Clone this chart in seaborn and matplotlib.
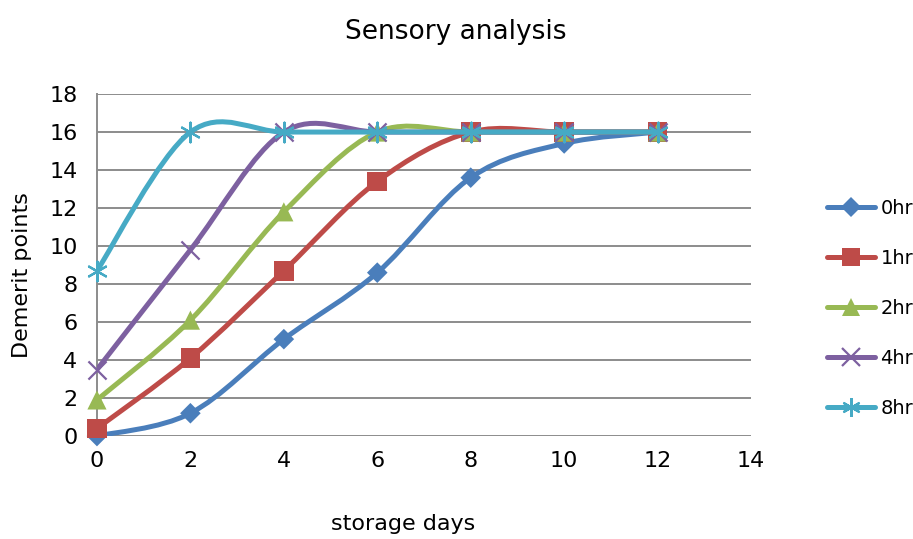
import numpy as np
import pandas as pd
import matplotlib
matplotlib.use("Agg")
import matplotlib.pyplot as plt
from matplotlib.path import Path
from matplotlib.patches import PathPatch
from matplotlib.lines import Line2D
import seaborn as sns

# Storage days and demerit points per treatment time
days = [0, 2, 4, 6, 8, 10, 12]
series_names = ["0hr", "1hr", "2hr", "4hr", "8hr"]
demerit_0hr = [0.0, 1.2, 5.1, 8.6, 13.6, 15.4, 16.0]
demerit_1hr = [0.4, 4.1, 8.7, 13.4, 16.0, 16.0, 16.0]
demerit_2hr = [1.9, 6.1, 11.8, 16.0, 16.0, 16.0, 16.0]
demerit_4hr = [3.5, 9.8, 16.0, 16.0, 16.0, 16.0, 16.0]
demerit_8hr = [8.7, 16.0, 16.0, 16.0, 16.0, 16.0, 16.0]

x_ticks = [0, 2, 4, 6, 8, 10, 12, 14]
y_ticks = [0, 2, 4, 6, 8, 10, 12, 14, 16, 18]

values = [demerit_0hr, demerit_1hr, demerit_2hr, demerit_4hr, demerit_8hr]
df = pd.DataFrame({
    "days": np.tile(days, len(series_names)),
    "demerit": np.concatenate(values),
    "series": np.repeat(series_names, len(days)),
})

colors = ["#4A7EBB", "#BE4B48", "#98B954", "#7D60A0", "#46AAC5"]
palette = dict(zip(series_names, colors))
asterisk = (6, 2, 0)
markers = {"0hr": "D", "1hr": "s", "2hr": "^", "4hr": "x", "8hr": asterisk}
msizes = {"0hr": 110, "1hr": 200, "2hr": 190, "4hr": 170, "8hr": 200}

sns.set_style("white")
plt.rcParams["font.family"] = ["DejaVu Sans"]
plt.rcParams["text.color"] = "black"
plt.rcParams["xtick.color"] = "black"
plt.rcParams["ytick.color"] = "black"

fig = plt.figure(figsize=(9.13, 5.39), dpi=100)
ax = fig.add_axes([0.1062, 0.191, 0.7164, 0.6345])


def smooth_path(xs, ys):
    """Cardinal-spline Bezier path through the points (spreadsheet style smoothing)."""
    pts = np.column_stack([xs, ys]).astype(float)
    n = len(pts)
    verts = [pts[0]]
    codes = [Path.MOVETO]
    for i in range(n - 1):
        p0 = pts[i - 1] if i > 0 else pts[i]
        p1 = pts[i]
        p2 = pts[i + 1]
        p3 = pts[i + 2] if i + 2 < n else pts[i + 1]
        c1 = p1 + (p2 - p0) / 6.0
        c2 = p2 - (p3 - p1) / 6.0
        verts += [c1, c2, p2]
        codes += [Path.CURVE4] * 3
    return Path(verts, codes)


for z, name in enumerate(series_names):
    sub = df[df["series"] == name]
    patch = PathPatch(smooth_path(sub["days"], sub["demerit"]), facecolor="none",
                      edgecolor=palette[name], lw=3.6, capstyle="round",
                      joinstyle="round", zorder=3 + 2 * z)
    ax.add_patch(patch)
    filled = name not in ("4hr", "8hr")
    sns.scatterplot(data=sub, x="days", y="demerit", ax=ax, color=palette[name],
                    marker=markers[name], s=msizes[name], legend=False,
                    linewidth=0 if filled else 1.6,
                    edgecolor=palette[name] if not filled else "none",
                    zorder=4 + 2 * z, clip_on=False)

ax.set_xlim(0, 14)
ax.set_ylim(0, 18)
ax.set_xticks(x_ticks)
ax.set_yticks(y_ticks)
ax.set_xticklabels([str(t) for t in x_ticks], fontsize=16)
ax.set_yticklabels([str(t) for t in y_ticks], fontsize=16)
ax.tick_params(axis="x", length=0, pad=11)
ax.tick_params(axis="y", length=0, pad=14)
ax.grid(axis="y", color="#8C8C8C", lw=1.4)
ax.grid(axis="x", visible=False)
ax.set_axisbelow(True)
for side in ["top", "right", "bottom"]:
    ax.spines[side].set_visible(False)
ax.spines["left"].set_color("#8C8C8C")
ax.spines["left"].set_linewidth(1.4)
ax.set_xlabel("")
ax.set_ylabel("")

fig.text(0.499, 0.94, "Sensory analysis", ha="center", va="center", fontsize=19)
fig.text(0.442, 0.027, "storage days", ha="center", va="center", fontsize=16)
fig.text(0.024, 0.49, "Demerit points", ha="center", va="center", rotation=90, fontsize=16)

handles = []
for name in series_names:
    filled = name not in ("4hr", "8hr")
    handles.append(Line2D([0], [0], color=palette[name], lw=3.6,
                          solid_capstyle="round", marker=markers[name],
                          markersize=np.sqrt(msizes[name]) * 0.95,
                          markerfacecolor=palette[name],
                          markeredgecolor=palette[name] if not filled else "none",
                          markeredgewidth=1.6 if not filled else 0))
fig.legend(handles=handles, labels=series_names, loc="center left",
           bbox_to_anchor=(0.887, 0.428), frameon=False, fontsize=14,
           handlelength=2.47, handletextpad=0.26, labelspacing=1.6,
           borderpad=0.4)

fig.savefig("out.png", dpi=100)
